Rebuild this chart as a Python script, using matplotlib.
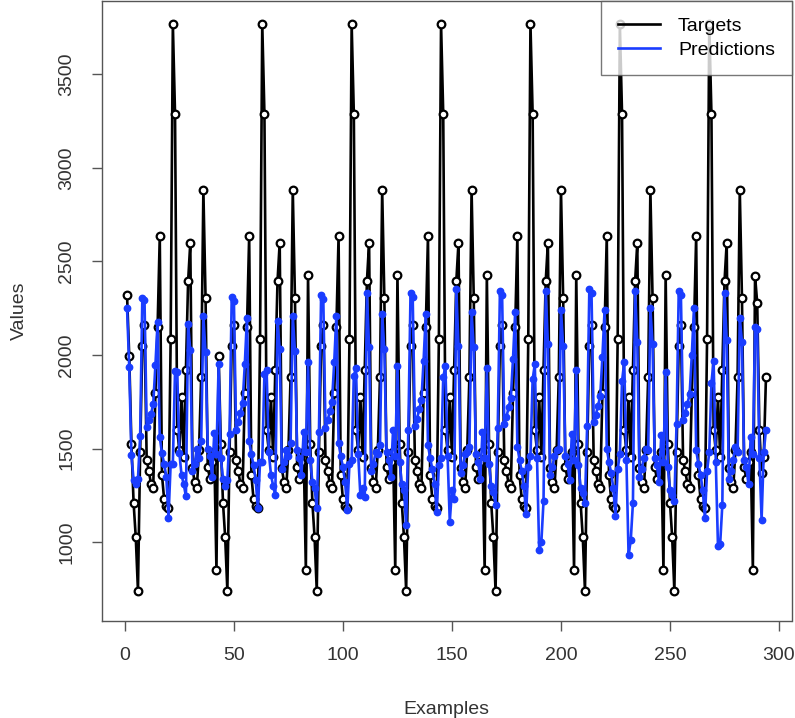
import numpy as np
import matplotlib.pyplot as plt

plt.rcParams['font.family'] = ['Liberation Sans', 'DejaVu Sans']

# target values, one block per cycle
targets_c1 = [2318, 1992, 1525, 1210, 1025, 740, 1480, 2050, 2158, 1440,
              1380, 1310, 1290, 1795, 2150, 2635, 1360, 1230, 1195, 1182,
              2085, 3770, 3290, 1600, 1490, 1775, 1455, 1921, 2394, 2600,
              1394, 1320, 1290, 1490, 1881, 2882, 2305, 1400, 1340, 1427, 1480]
targets_c2 = [850, 1992, 1525, 1210, 1025, 740, 1480, 2050, 2158, 1440,
              1380, 1310, 1290, 1795, 2150, 2635, 1360, 1230, 1195, 1182,
              2085, 3770, 3290, 1600, 1490, 1775, 1455, 1921, 2394, 2600,
              1394, 1320, 1290, 1490, 1881, 2882, 2305, 1400, 1340, 1427, 1480]
targets_c3 = [850, 2430, 1525, 1210, 1025, 740, 1480, 2050, 2158, 1440,
              1380, 1310, 1290, 1795, 2150, 2635, 1360, 1230, 1195, 1182,
              2085, 3770, 3290, 1600, 1490, 1775, 1455, 1921, 2394, 2600,
              1394, 1320, 1290, 1490, 1881, 2882, 2305, 1400, 1340, 1427, 1480]
targets_c4 = [850, 2430, 1525, 1210, 1025, 740, 1480, 2050, 2158, 1440,
              1380, 1310, 1290, 1795, 2150, 2635, 1360, 1230, 1195, 1182,
              2085, 3770, 3290, 1600, 1490, 1775, 1455, 1921, 2394, 2600,
              1394, 1320, 1290, 1490, 1881, 2882, 2305, 1400, 1340, 1427, 1480]
targets_c5 = [850, 2430, 1525, 1210, 1025, 740, 1480, 2050, 2158, 1440,
              1380, 1310, 1290, 1795, 2150, 2635, 1360, 1230, 1195, 1182,
              2085, 3770, 3290, 1600, 1490, 1775, 1455, 1921, 2394, 2600,
              1394, 1320, 1290, 1490, 1881, 2882, 2305, 1400, 1340, 1427, 1480]
targets_c6 = [850, 2430, 1525, 1210, 1025, 740, 1480, 2050, 2158, 1440,
              1380, 1310, 1290, 1795, 2150, 2635, 1360, 1230, 1195, 1182,
              2085, 3770, 3290, 1600, 1490, 1775, 1455, 1921, 2394, 2600,
              1394, 1320, 1290, 1490, 1881, 2882, 2305, 1400, 1340, 1427, 1480]
targets_c7 = [850, 2430, 1525, 1210, 1025, 740, 1480, 2050, 2158, 1440,
              1380, 1310, 1290, 1795, 2150, 2635, 1360, 1230, 1195, 1182,
              2085, 3770, 3290, 1600, 1490, 1775, 1455, 1921, 2394, 2600,
              1394, 1320, 1290, 1490, 1881, 2882, 2305, 1400, 1340, 1427, 1480]
targets_tail = [850, 2424, 2277, 1600, 1367, 1454, 1880]

# model output, same blocks
preds_c1 = [2250, 1935, 1463, 1333, 1310, 1340, 1565, 2305, 2295, 1614,
            1650, 1685, 1738, 1944, 2175, 1561, 1475, 1420, 1350, 1130,
            1419, 1420, 1913, 1910, 1475, 1357, 1310, 1244, 2167, 2024,
            1380, 1420, 1500, 1450, 1540, 2206, 2015, 1500, 1460, 1350, 1582]
preds_c2 = [1470, 1950, 1450, 1340, 1300, 1330, 1580, 2310, 2290, 1600,
            1640, 1690, 1745, 1950, 2200, 1540, 1470, 1410, 1330, 1180,
            1430, 1430, 1900, 1920, 1480, 1360, 1300, 1250, 2180, 2030,
            1390, 1430, 1490, 1460, 1530, 2210, 2020, 1490, 1450, 1360, 1590]
preds_c3 = [1480, 1960, 1440, 1320, 1290, 1180, 1590, 2320, 2300, 1610,
            1650, 1700, 1750, 1960, 2210, 1530, 1460, 1400, 1320, 1170,
            1420, 1440, 1890, 1930, 1470, 1250, 1290, 1240, 2330, 2040,
            1380, 1420, 1480, 1470, 1520, 2220, 2030, 1480, 1440, 1350, 1600]
preds_c4 = [1460, 1940, 1430, 1310, 1280, 1090, 1600, 2330, 2310, 1620,
            1660, 1710, 1760, 1970, 2220, 1520, 1450, 1390, 1310, 1160,
            1410, 1450, 1880, 1940, 1460, 1110, 1280, 1230, 2350, 2050,
            1370, 1410, 1470, 1480, 1510, 2230, 2040, 1470, 1430, 1340, 1590]
preds_c5 = [1450, 1930, 1420, 1300, 1270, 1200, 1610, 2340, 2320, 1630,
            1670, 1720, 1770, 1980, 2230, 1510, 1440, 1380, 1300, 1150,
            1400, 1460, 1870, 1950, 1450, 960, 1000, 1220, 2340, 2060,
            1360, 1400, 1460, 1490, 1500, 2240, 2050, 1460, 1420, 1330, 1580]
preds_c6 = [1440, 1920, 1410, 1290, 1260, 1210, 1620, 2350, 2330, 1640,
            1680, 1730, 1780, 1990, 2240, 1500, 1430, 1370, 1290, 1140,
            1390, 1470, 1860, 1960, 1440, 930, 1010, 1210, 2340, 2070,
            1350, 1390, 1450, 1500, 1490, 2250, 2060, 1450, 1410, 1320, 1570]
preds_c7 = [1430, 1910, 1400, 1280, 1250, 1220, 1630, 2340, 2320, 1650,
            1690, 1740, 1790, 2000, 2250, 1490, 1420, 1360, 1280, 1130,
            1380, 1480, 1850, 1970, 1430, 980, 990, 1200, 2330, 2080,
            1340, 1380, 1440, 1510, 1480, 2200, 2070, 1440, 1400, 1310, 1560]
preds_tail = [1470, 2150, 2140, 1450, 1120, 1480, 1600]

targets = np.array(targets_c1 + targets_c2 + targets_c3 + targets_c4 +
                   targets_c5 + targets_c6 + targets_c7 + targets_tail)
preds = np.array(preds_c1 + preds_c2 + preds_c3 + preds_c4 +
                 preds_c5 + preds_c6 + preds_c7 + preds_tail)
idx = np.arange(1, len(targets) + 1)

fig = plt.figure(figsize=(7.95, 7.18), dpi=100)
ax = fig.add_axes([101.5 / 795, 97 / 718, 690 / 795, 620 / 718])

ax.plot(idx, targets, color='black', lw=1.9, marker='o', ms=5.5,
        mfc='white', mec='black', mew=1.6, label='Targets')
ax.plot(idx, preds, color='#1a3dff', lw=1.9, marker='o', ms=4.6,
        mfc='#1a3dff', mec='#1a3dff', label='Predictions')

# R-style limits: 4% padding around the data
lo, hi = min(targets.min(), preds.min()), max(targets.max(), preds.max())
pad = (hi - lo) * 0.04
ax.set_ylim(lo - pad - 40, hi + pad)
ax.set_xlim(1 - 293 * 0.04, 294 + 293 * 0.04)

ax.set_xticks(np.arange(0, 301, 50))
ax.set_yticks(np.arange(1000, 3501, 500))
for s in ax.spines.values():
    s.set_color('#555555')
    s.set_linewidth(1.0)
ax.tick_params(axis='both', direction='out', length=7, width=1,
               color='#555555', labelcolor='#333333', labelsize=14, pad=12)
for lab in ax.get_yticklabels():
    lab.set_rotation(90)
    lab.set_va('center')

ax.set_xlabel('Examples', fontsize=14, color='#333333', labelpad=26)
ax.set_ylabel('Values', fontsize=14, color='#333333', labelpad=22)

leg = ax.legend(loc='upper right', fontsize=14, frameon=True, fancybox=False,
                borderaxespad=0, handlelength=2.2, labelspacing=0.3,
                borderpad=0.85, handletextpad=0.9)
leg.get_frame().set_edgecolor('#555555')
leg.get_frame().set_linewidth(1.0)
for h in leg.legend_handles:
    h.set_marker('')

fig.savefig('out.png', dpi=100)
